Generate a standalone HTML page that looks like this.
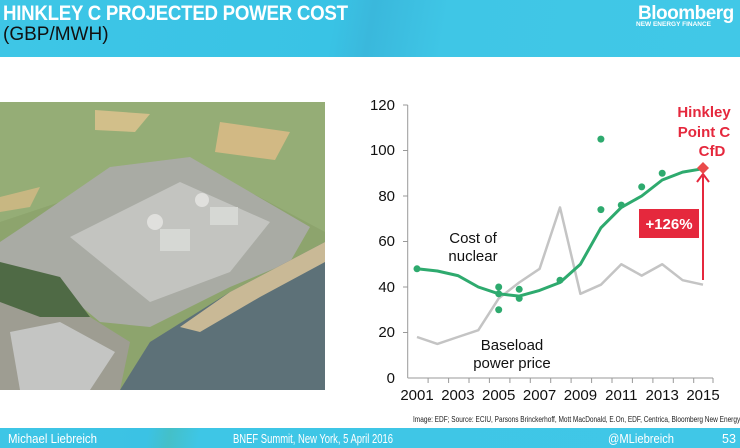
<!DOCTYPE html>
<html><head><meta charset="utf-8"><style>
body{margin:0;width:740px;height:448px;overflow:hidden;background:#fff;font-family:"Liberation Sans",sans-serif;position:relative}
.hdr{position:absolute;left:0;top:0;width:740px;height:57px;background:linear-gradient(100deg,#3ec6e6 0%,#39c3e5 45%,#3ab8dc 50%,#3fc6e6 60%,#41c8e7 100%)}
.ftr{position:absolute;left:0;top:428px;width:740px;height:20px;background:linear-gradient(100deg,#3ec6e6 0%,#3bc2e4 20%,#44c0c8 23%,#3ec6e6 27%,#40c7e7 100%)}
</style></head><body>
<div class="hdr">
<div style="position:absolute;left:3px;top:2px;color:#fff;font-weight:bold;font-size:21px;letter-spacing:-0.3px;transform:scaleX(0.89);transform-origin:0 0;white-space:nowrap">HINKLEY C PROJECTED POWER COST</div>
<div style="position:absolute;left:3px;top:24px;color:#111;font-size:19px">(GBP/MWH)</div>
<div style="position:absolute;left:638px;top:3px;color:#fff;font-weight:bold;font-size:19px;letter-spacing:-0.5px">Bloomberg</div>
<div style="position:absolute;left:636px;top:21px;color:#fff;font-weight:bold;font-size:6.5px">NEW ENERGY FINANCE</div>
</div>
<div class="ftr"></div>
<svg style="position:absolute;left:0;top:102px" width="325" height="288" viewBox="0 0 325 288">
<rect width="325" height="288" fill="#8da46d"/>
<polygon points="0,0 325,0 325,130 250,90 160,60 60,100 0,120" fill="#95ad76"/>
<polygon points="95,8 150,12 135,30 95,28" fill="#d2bf8a"/>
<polygon points="220,20 290,30 275,58 215,50" fill="#d2b984"/>
<polygon points="0,95 40,85 30,105 0,110" fill="#c8b782"/>
<polygon points="0,140 30,120 110,65 190,55 310,125 290,160 230,185 150,225 100,220 40,170 0,165" fill="#a9aba4"/>
<polygon points="70,135 180,80 270,120 230,170 150,200" fill="#c3c4c0"/>
<circle cx="155" cy="120" r="8" fill="#e0e0dd"/><circle cx="202" cy="98" r="7" fill="#e0e0dd"/>
<rect x="160" y="127" width="30" height="22" fill="#d6d8d4"/><rect x="210" y="105" width="28" height="18" fill="#d6d8d4"/>
<polygon points="325,140 325,288 120,288 150,240 230,190" fill="#5d7178"/>
<polygon points="325,140 230,190 180,225 200,230 260,195 325,160" fill="#c9b996"/>
<polygon points="0,180 50,190 130,240 120,288 0,288" fill="#9e9d92"/>
<polygon points="10,230 60,220 115,250 90,288 20,288" fill="#c4c5c3"/>
<polygon points="0,160 60,175 90,215 40,215 0,200" fill="#4f6a45"/>
</svg>
<svg style="position:absolute;left:0;top:0" width="740" height="448" font-family="Liberation Sans, sans-serif">
<g font-size="15" fill="#111" text-anchor="end">
<text x="395" y="110">120</text><text x="395" y="155">100</text><text x="395" y="201">80</text><text x="395" y="246">60</text><text x="395" y="292">40</text><text x="395" y="337">20</text><text x="395" y="383">0</text>
</g>
<line x1="407.7" y1="105" x2="407.7" y2="378" stroke="#999" stroke-width="1"/>
<line x1="407.7" y1="378" x2="713" y2="378" stroke="#999" stroke-width="1"/>
<g stroke="#999">
<line x1="403" y1="105" x2="407.7" y2="105"/><line x1="403" y1="150.5" x2="407.7" y2="150.5"/><line x1="403" y1="196" x2="407.7" y2="196"/><line x1="403" y1="241.5" x2="407.7" y2="241.5"/><line x1="403" y1="287" x2="407.7" y2="287"/><line x1="403" y1="332.5" x2="407.7" y2="332.5"/>
<line x1="428.1" y1="378" x2="428.1" y2="383"/><line x1="448.6" y1="378" x2="448.6" y2="383"/><line x1="469" y1="378" x2="469" y2="383"/><line x1="489.4" y1="378" x2="489.4" y2="383"/><line x1="509.9" y1="378" x2="509.9" y2="383"/><line x1="530.3" y1="378" x2="530.3" y2="383"/><line x1="550.7" y1="378" x2="550.7" y2="383"/><line x1="571.1" y1="378" x2="571.1" y2="383"/><line x1="591.6" y1="378" x2="591.6" y2="383"/><line x1="612" y1="378" x2="612" y2="383"/><line x1="632.4" y1="378" x2="632.4" y2="383"/><line x1="652.9" y1="378" x2="652.9" y2="383"/><line x1="673.3" y1="378" x2="673.3" y2="383"/><line x1="693.7" y1="378" x2="693.7" y2="383"/><line x1="713" y1="378" x2="713" y2="383"/>
</g>
<g font-size="15" fill="#111" text-anchor="middle">
<text x="417" y="400">2001</text><text x="457.9" y="400">2003</text><text x="498.7" y="400">2005</text><text x="539.6" y="400">2007</text><text x="580.4" y="400">2009</text><text x="621.3" y="400">2011</text><text x="662.2" y="400">2013</text><text x="703" y="400">2015</text>
</g>
<polyline fill="none" stroke="#c4c4c4" stroke-width="2.5" stroke-linejoin="round" points="417,337 437.4,343.9 457.9,337 478.3,330.2 498.7,298.4 519.2,282.5 539.6,268.8 560,207.4 580.4,293.8 600.9,284.7 621.3,264.25 641.7,275.6 662.2,264.25 682.6,280.2 703,284.7"/>
<polyline fill="none" stroke="#2eaa6e" stroke-width="3" stroke-linejoin="round" points="417,268.8 437.4,271 457.9,275.6 478.3,287 498.7,293.8 519.2,296.1 539.6,290.4 560,282.5 580.4,264.25 600.9,227.8 621.3,207.4 641.7,196 662.2,180 682.6,172.1 703,168.7"/>
<g fill="#2eaa6e">
<circle cx="417" cy="268.8" r="3.5"/><circle cx="498.7" cy="287" r="3.5"/><circle cx="498.7" cy="293.8" r="3.5"/><circle cx="498.7" cy="309.75" r="3.5"/><circle cx="519.2" cy="289.3" r="3.5"/><circle cx="519.2" cy="298.4" r="3.5"/><circle cx="560" cy="280.2" r="3.5"/><circle cx="600.9" cy="139.1" r="3.5"/><circle cx="600.9" cy="209.65" r="3.5"/><circle cx="621.3" cy="205.1" r="3.5"/><circle cx="641.7" cy="186.9" r="3.5"/><circle cx="662.2" cy="173.25" r="3.5"/>
</g>
<line x1="703" y1="280" x2="703" y2="176" stroke="#e5283d" stroke-width="2"/>
<polyline points="697,182 703,174 709,182" fill="none" stroke="#e5283d" stroke-width="2"/>
<polygon points="703,162 709,168 703,174 697,168" fill="#ea4b4b"/>
<rect x="639" y="209" width="60" height="29" fill="#e5283d"/>
<text x="669" y="229" font-size="15" font-weight="bold" fill="#fff" text-anchor="middle">+126%</text>
<g font-size="15" font-weight="bold" fill="#e5283d" text-anchor="middle">
<text x="704" y="117">Hinkley</text><text x="704" y="137">Point C</text><text x="712" y="156">CfD</text>
</g>
<g font-size="15" fill="#111" text-anchor="middle">
<text x="473" y="243">Cost of</text><text x="473" y="261">nuclear</text>
<text x="512" y="350">Baseload</text><text x="512" y="368">power price</text>
</g>
<text x="413" y="422" font-size="8" fill="#222" textLength="333" lengthAdjust="spacingAndGlyphs">Image: EDF; Source: ECIU, Parsons Brinckerhoff, Mott MacDonald,  E.On, EDF, Centrica, Bloomberg New Energy F</text>
<g font-size="12.5" fill="#fff">
<text x="8" y="443" textLength="89" lengthAdjust="spacingAndGlyphs">Michael Liebreich</text>
<text x="233" y="443" textLength="160" lengthAdjust="spacingAndGlyphs">BNEF Summit, New York, 5 April 2016</text>
<text x="608" y="443" textLength="66" lengthAdjust="spacingAndGlyphs">@MLiebreich</text>
<text x="722" y="443">53</text>
</g>
</svg>
</body></html>
